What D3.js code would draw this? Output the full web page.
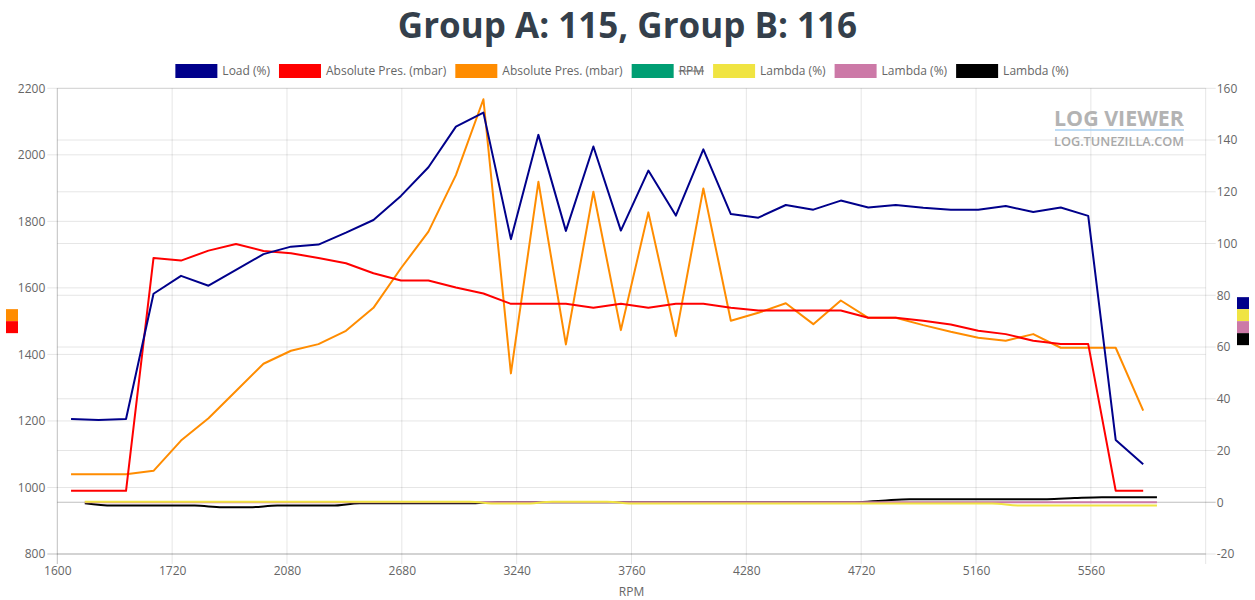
<!DOCTYPE html>
<html>
<head>
<meta charset="utf-8">
<script src="https://cdn.jsdelivr.net/npm/d3@7"></script>
<style>
  body { margin: 0; background: #fff; }
  svg { font-family: "Open Sans", sans-serif; }
</style>
</head>
<body>
<svg id="chart" width="1255" height="600"></svg>
<script>
// x tick labels (category axis, every few samples)
const xTickLabels = ["1600", "1720", "2080", "2680", "3240", "3760", "4280", "4720", "5160", "5560"];

// right axis (%)
const load = [32.2, 31.8, 32.2, 80.6, 87.5, 83.7, 89.8, 95.9, 98.8, 99.6,
  104.2, 109.1, 118.4, 129.5, 145.2, 150.6, 101.7, 142.0, 104.9, 137.5,
  105.0, 128.2, 110.8, 136.4, 111.4, 110.0, 114.9, 113.1, 116.6, 113.9,
  114.9, 113.8, 113.1, 113.1, 114.5, 112.2, 113.9, 110.7, 24.1, 14.7];

// left axis (mbar)
const absPresA = [990, 990, 990, 1690, 1682, 1712, 1732, 1711, 1704, 1690,
  1674, 1644, 1622, 1622, 1601, 1583, 1552, 1552, 1552, 1540,
  1552, 1540, 1552, 1552, 1540, 1532, 1532, 1532, 1532, 1510,
  1510, 1501, 1490, 1471, 1461, 1441, 1431, 1431, 990, 990];

const absPresB = [1040, 1040, 1040, 1050, 1141, 1208, 1290, 1372, 1411, 1431,
  1471, 1540, 1659, 1769, 1939, 2167, 1343, 1919, 1430, 1889,
  1473, 1827, 1455, 1899, 1501, 1525, 1554, 1491, 1562, 1510,
  1510, 1488, 1468, 1450, 1441, 1461, 1420, 1420, 1420, 1231];

// lambda series (right axis, %)
const lambdaYellow = [0.2, 0.2, 0.2, 0.2, 0.2, 0.2, 0.2, 0.2, 0.2, 0.2,
  0.2, 0.2, 0.2, 0.2, 0.2, -0.5, -0.5, 0.2, 0.2, 0.2,
  -0.5, -0.5, -0.5, -0.5, -0.5, -0.5, -0.5, -0.5, -0.5, -0.5,
  -0.5, -0.5, -0.5, -0.5, -1.3, -1.3, -1.3, -1.3, -1.3, -1.3];
const lambdaPink = [0, 0, 0, 0, 0, 0, 0, 0, 0, 0,
  0, 0, 0, 0, 0, 0, 0, 0, 0, 0,
  0, 0, 0, 0, 0, 0, 0, 0, 0, 0,
  0, 0, 0, 0, 0, 0, 0, 0, 0, 0];
const lambdaBlack = [-0.4, -1.3, -1.3, -1.3, -1.3, -1.9, -1.9, -1.3, -1.3, -1.3,
  -0.4, -0.4, -0.4, -0.4, -0.4, 0, 0, 0, 0, 0,
  0, 0, 0, 0, 0, 0, 0, 0, 0, 0.6,
  1.2, 1.2, 1.2, 1.2, 1.2, 1.2, 1.6, 1.9, 1.9, 1.9];

const seriesNames = ["Load (%)", "Absolute Pres. (mbar)", "Absolute Pres. (mbar)", "RPM", "Lambda (%)", "Lambda (%)", "Lambda (%)"];
const seriesColors = ["#00008b", "#ff0000", "#ff8c00", "#009e73", "#f0e442", "#cc79a7", "#000000"];
const hiddenSeries = [false, false, false, true, false, false, false];

const svg = d3.select("#chart"),
    width = +svg.attr("width"),
    height = +svg.attr("height");

const plotLeft = 57.3, plotRight = 1205.7, plotTop = 88.3, plotBottom = 554;

const yLeft = d3.scaleLinear().domain([800, 2200]).range([plotBottom, plotTop]);
const yRight = d3.scaleLinear().domain([-20, 160]).range([plotBottom, plotTop]);
const xTick = d3.scaleLinear().domain([0, 10]).range([plotLeft, plotRight]);
const x = d3.scaleLinear().domain([0, 39]).range([71.05, 1143.2]);

const gridColor = "rgba(0,0,0,0.1)";
const axisColor = "rgba(0,0,0,0.25)";

// title
svg.append("text")
  .attr("x", width / 2)
  .attr("y", 37.5)
  .attr("text-anchor", "middle")
  .style("font-size", "35px")
  .style("font-weight", "bold")
  .style("fill", "#343f4b")
  .text("Group A: 115, Group B: 116");

// legend
var legend = svg.append("g").attr("class", "legend");
var items = [];
var cursor = 0;
seriesNames.forEach(function(name, i) {
  var g = legend.append("g");
  var t = g.append("text")
    .attr("y", 71)
    .attr("dy", "0.35em")
    .style("font-size", "12px")
    .style("fill", "#666")
    .text(name);
  var tw = t.node().getComputedTextLength();
  g.append("rect")
    .attr("x", 0).attr("y", 65)
    .attr("width", 40).attr("height", 12)
    .attr("fill", seriesColors[i])
    .attr("stroke", seriesColors[i])
    .attr("stroke-width", 2);
  t.attr("x", 46);
  if (hiddenSeries[i]) {
    g.append("line")
      .attr("x1", 46).attr("x2", 46 + tw)
      .attr("y1", 71).attr("y2", 71)
      .attr("stroke", "#666").attr("stroke-width", 1);
  }
  items.push({g: g, x: cursor});
  cursor += 46 + tw + 10;
});
var legendStart = (width - cursor) / 2;
items.forEach(function(it) {
  it.g.attr("transform", "translate(" + (legendStart + it.x) + ",0)");
});

// grid lines
var grid = svg.append("g");
grid.selectAll(".gl").data(d3.range(800, 2201, 200)).enter().append("line")
  .attr("x1", plotLeft - 10).attr("x2", plotRight)
  .attr("y1", d => yLeft(d)).attr("y2", d => yLeft(d))
  .attr("stroke", d => d === 800 ? axisColor : gridColor);
grid.selectAll(".gr").data(d3.range(-20, 161, 20)).enter().append("line")
  .attr("x1", plotLeft).attr("x2", plotRight + 10)
  .attr("y1", d => yRight(d)).attr("y2", d => yRight(d))
  .attr("stroke", d => d === 0 ? axisColor : gridColor);
grid.selectAll(".gx").data(d3.range(11)).enter().append("line")
  .attr("x1", d => xTick(d)).attr("x2", d => xTick(d))
  .attr("y1", plotTop).attr("y2", plotBottom + 10)
  .attr("stroke", d => d === 0 ? axisColor : gridColor);

// axis labels
var plain = function(d) { return String(d); };
var axisL = svg.append("g")
  .attr("transform", "translate(" + plotLeft + ",0)")
  .call(d3.axisLeft(yLeft).tickValues(d3.range(800, 2201, 200)).tickSize(0).tickPadding(12).tickFormat(plain));
var axisR = svg.append("g")
  .attr("transform", "translate(" + plotRight + ",0)")
  .call(d3.axisRight(yRight).tickValues(d3.range(-20, 161, 20)).tickSize(0).tickPadding(11).tickFormat(plain));
var axisB = svg.append("g")
  .attr("transform", "translate(0," + plotBottom + ")")
  .call(d3.axisBottom(xTick).tickValues(d3.range(11)).tickSize(0).tickPadding(12)
    .tickFormat(function(i) { return xTickLabels[i] || ""; }));
[axisL, axisR, axisB].forEach(function(a) {
  a.select(".domain").remove();
  a.selectAll("text").style("font-size", "12px").style("fill", "#666")
    .style("font-family", "'Open Sans', sans-serif");
});

svg.append("text")
  .attr("x", (plotLeft + plotRight) / 2)
  .attr("y", 596)
  .attr("text-anchor", "middle")
  .style("font-size", "12px")
  .style("fill", "#666")
  .text("RPM");

// watermark
svg.append("text")
  .attr("x", 1054).attr("y", 126)
  .attr("textLength", 130).attr("lengthAdjust", "spacingAndGlyphs")
  .style("font-size", "22px").style("font-weight", "bold")
  .style("fill", "#b3b3b3")
  .text("LOG VIEWER");
svg.append("line")
  .attr("x1", 1055).attr("x2", 1184)
  .attr("y1", 130).attr("y2", 130)
  .attr("stroke", "#a8d0f2").attr("stroke-width", 1.5);
svg.append("text")
  .attr("x", 1054).attr("y", 146)
  .attr("textLength", 130).attr("lengthAdjust", "spacingAndGlyphs")
  .style("font-size", "12px").style("font-weight", "600")
  .style("fill", "#a9a9a9")
  .text("LOG.TUNEZILLA.COM");

// series lines (drawn last dataset first, so Load ends on top)
var lineStraight = function(scale, dx) {
  return d3.line().x((d, i) => x(i + dx)).y(d => scale(d));
};
var lineSmooth = function(scale, dx) {
  return d3.line().x((d, i) => x(i + dx)).y(d => scale(d)).curve(d3.curveMonotoneX);
};

var series = [
  {data: lambdaBlack, color: seriesColors[6], gen: lineSmooth(yRight, 0.5)},
  {data: lambdaPink, color: seriesColors[5], gen: lineSmooth(yRight, 0.5)},
  {data: lambdaYellow, color: seriesColors[4], gen: lineSmooth(yRight, 0.5)},
  {data: absPresB, color: seriesColors[2], gen: lineStraight(yLeft, 0)},
  {data: absPresA, color: seriesColors[1], gen: lineStraight(yLeft, 0)},
  {data: load, color: seriesColors[0], gen: lineStraight(yRight, 0)}
];
svg.append("g").selectAll("path").data(series).enter().append("path")
  .attr("d", d => d.gen(d.data))
  .attr("fill", "none")
  .attr("stroke", d => d.color)
  .attr("stroke-width", 2)
  .attr("stroke-linejoin", "round");

// axis colour markers
var midY = (plotTop + plotBottom) / 2;
var leftMarks = [seriesColors[2], seriesColors[1]];
var rightMarks = [seriesColors[0], seriesColors[4], seriesColors[5], seriesColors[6]];
svg.append("g").selectAll("rect").data(leftMarks).enter().append("rect")
  .attr("x", 6).attr("y", (d, i) => midY - leftMarks.length * 6 + i * 12)
  .attr("width", 12).attr("height", 12).attr("fill", d => d);
svg.append("g").selectAll("rect").data(rightMarks).enter().append("rect")
  .attr("x", 1237).attr("y", (d, i) => midY - rightMarks.length * 6 + i * 12)
  .attr("width", 12).attr("height", 12).attr("fill", d => d);
</script>
</body>
</html>
